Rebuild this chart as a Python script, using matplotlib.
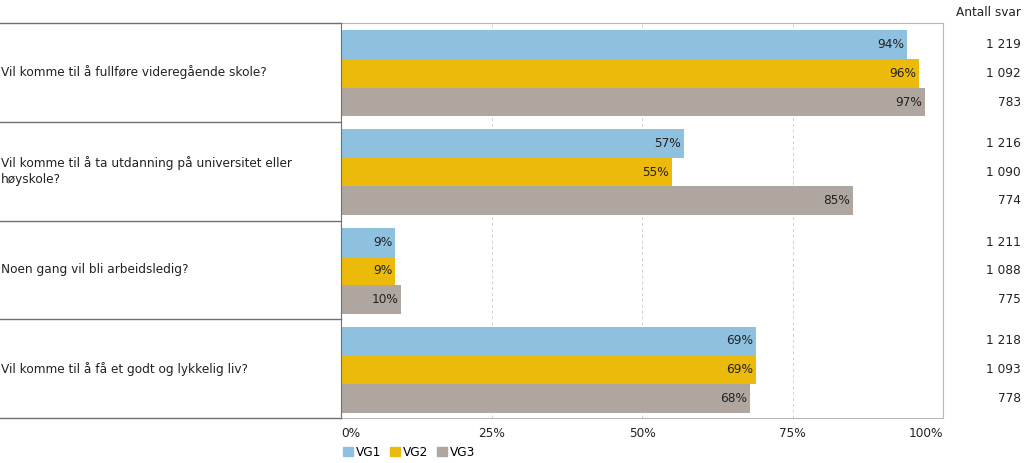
import matplotlib.pyplot as plt
from matplotlib.transforms import blended_transform_factory
from matplotlib.patches import Patch

sporsmal = ['Vil komme til å fullføre videregående skole?',
            'Vil komme til å ta utdanning på universitet eller\nhøyskole?',
            'Noen gang vil bli arbeidsledig?',
            'Vil komme til å få et godt og lykkelig liv?']
trinn = ['VG1', 'VG2', 'VG3']
vg1 = [94, 57, 9, 69]
vg2 = [96, 55, 9, 69]
vg3 = [97, 85, 10, 68]
antall_vg1 = [1219, 1216, 1211, 1218]
antall_vg2 = [1092, 1090, 1088, 1093]
antall_vg3 = [783, 774, 775, 778]

farger = ['#8EC1DF', '#EBBA0B', '#AEA69F']
plt.rcParams['font.family'] = ['DejaVu Sans']
fs = 8.7

W, H = 1024, 463
fig = plt.figure(figsize=(W / 100, H / 100), dpi=100)
x0, x1, ytop, ybot = 341, 943, 23, 418
ax = fig.add_axes([x0 / W, 1 - ybot / H, (x1 - x0) / W, (ybot - ytop) / H])
axl = fig.add_axes([0, 1 - ybot / H, x0 / W, (ybot - ytop) / H])

h = 0.29
serier = [vg1, vg2, vg3]
antall = [antall_vg1, antall_vg2, antall_vg3]
trans = blended_transform_factory(fig.transFigure, ax.transData)
for j, (verdier, n) in enumerate(zip(serier, antall)):
    ys = [i + 0.01 + (j - 1) * h for i in range(len(sporsmal))]
    ax.barh(ys, verdier, height=h, color=farger[j], label=trinn[j], zorder=2)
    for y, v, c in zip(ys, verdier, n):
        ax.text(v - 0.5, y, f'{v}%', ha='right', va='center', fontsize=fs, color='#222222', zorder=3)
        ax.text(1021 / W, y, f'{c:,}'.replace(',', ' '), transform=trans, ha='right', va='center',
                fontsize=fs, color='#222222')

ax.set_xlim(0, 100)
ax.set_ylim(len(sporsmal) - 0.5, -0.5)
ax.set_yticks([])
ax.set_xticks([0, 25, 50, 75, 100])
ax.set_xticklabels(['0%', '25%', '50%', '75%', '100%'], fontsize=fs, color='#222222')
ax.tick_params(axis='x', length=0, pad=6.5)
lbls = ax.get_xticklabels()
lbls[0].set_ha('left')
lbls[-1].set_ha('right')
for x in [25, 50, 75]:
    ax.axvline(x, color='#D0D0D0', linestyle=(0, (3, 3)), linewidth=0.7, zorder=1)
for s in ax.spines.values():
    s.set_color('#B8B8B8')
    s.set_linewidth(0.8)
ax.spines['left'].set_color('#707070')

axl.set_xlim(0, 1)
axl.set_ylim(len(sporsmal) - 0.5, -0.5)
axl.axis('off')
for y in [-0.5, 0.5, 1.5, 2.5, 3.5]:
    axl.axhline(y, color='#707070', linewidth=1.0, clip_on=False)
for i, s in enumerate(sporsmal):
    axl.text(1 / x0, i, s, ha='left', va='center', fontsize=fs, color='#222222', linespacing=1.25)

fig.text(1021 / W, 1 - 12 / H, 'Antall svar', ha='right', va='center', fontsize=fs, color='#222222')

handles = [Patch(color=c, label=t) for c, t in zip(farger, trinn)]
fig.legend(handles=handles, loc='center left', bbox_to_anchor=(338 / W, 1 - 452 / H), ncol=3,
           frameon=False, fontsize=fs, handlelength=0.8, handleheight=0.8, handletextpad=0.3,
           columnspacing=0.7, borderaxespad=0)

fig.savefig('out.png', dpi=100)
